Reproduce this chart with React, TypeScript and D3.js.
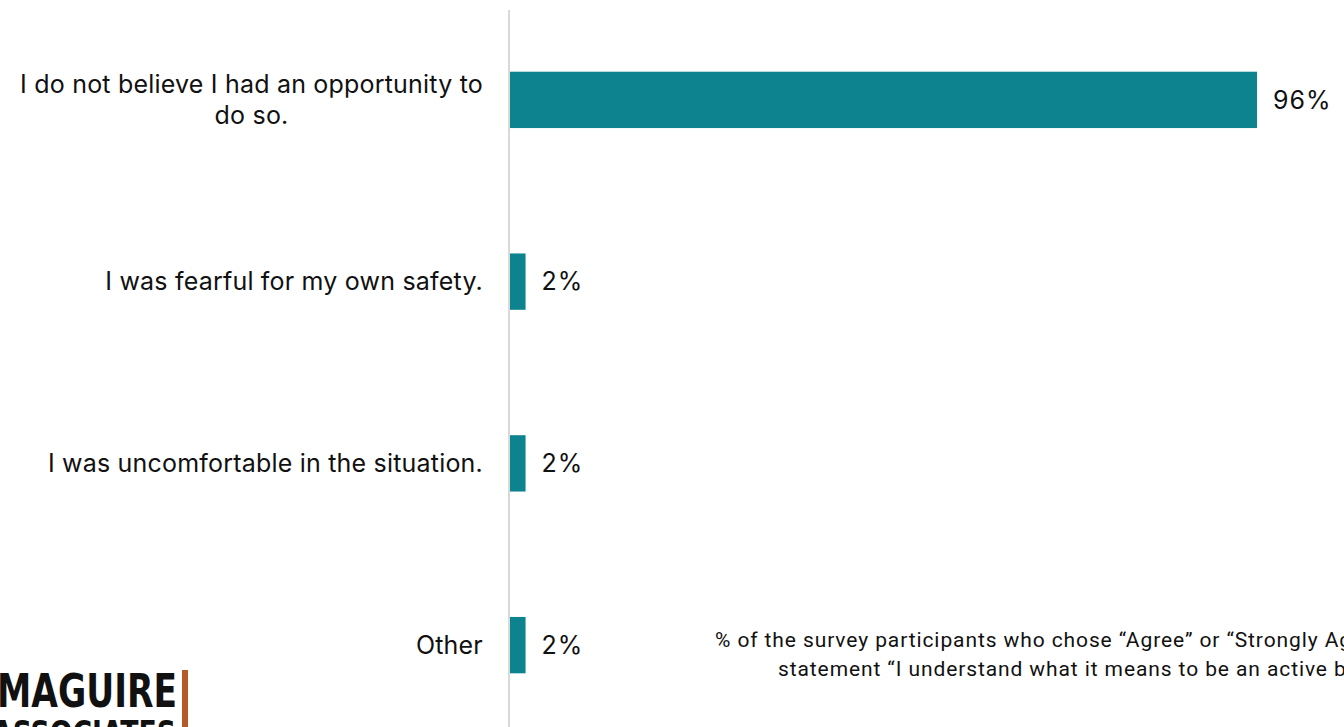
import React, { useEffect } from "react";
import * as d3 from "d3";

const categories: string[][] = [
  ["I do not believe I had an opportunity to", "do so."],
  ["I was fearful for my own safety."],
  ["I was uncomfortable in the situation."],
  ["Other"],
];
const values: number[] = [96, 2, 2, 2];
const noteLines: string[] = [
  "% of the survey participants who chose “Agree” or “Strongly Agree” with the",
  "statement “I understand what it means to be an active bystander.”",
];

const W = 1344;
const H = 727;

export default function App() {
  useEffect(() => {
    document.body.style.margin = "0";
    document.body.style.overflow = "hidden";
  }, []);

  const x = d3.scaleLinear().domain([0, 96]).range([510, 1257]);
  const y = d3
    .scaleBand<number>()
    .domain(d3.range(categories.length))
    .range([9, 736])
    .paddingInner(0.69)
    .paddingOuter(0.345);

  const labelFont = "Inter, 'Liberation Sans', Arial, sans-serif";
  const logoFont = "'DejaVu Sans Condensed', 'Liberation Sans Narrow', Arial, sans-serif";

  return (
    <svg width={W} height={H} style={{ display: "block" }}>
      <rect width={W} height={H} fill="#ffffff" />
      <line x1={509} x2={509} y1={10} y2={H} stroke="#d9d9d9" strokeWidth={2} />
      {values.map((v, i) => {
        const by = y(i)!;
        const bh = y.bandwidth();
        const cy = by + bh / 2;
        const lines = categories[i];
        return (
          <g key={i}>
            <rect x={x(0)} y={by} width={x(v) - x(0)} height={bh} fill="#0e8390" />
            <text
              x={x(v) + 16}
              y={cy}
              dy="0.35em"
              fontSize={25}
              style={{ letterSpacing: "1px" }}
              fontFamily={labelFont}
              fill="#111"
            >
              {v}%
            </text>
            <text
              x={483}
              y={cy - ((lines.length - 1) / 2) * 31}
              dy="0.35em"
              textAnchor="end"
              fontSize={25}
              style={{ letterSpacing: "0.2px" }}
              fontFamily={labelFont}
              fill="#111"
            >
              {lines[0]}
            </text>
            {lines.length > 1 && (
              <text
                x={483}
                y={cy + 15.5}
                dy="0.35em"
                textAnchor="middle"
                fontSize={25}
                style={{ letterSpacing: "0.2px" }}
                fontFamily={labelFont}
                fill="#111"
                ref={(el) => {
                  if (el && el.previousSibling) {
                    const prev = el.previousSibling as SVGTextElement;
                    const w = prev.getComputedTextLength();
                    el.setAttribute("x", String(483 - w / 2));
                  }
                }}
              >
                {lines[1]}
              </text>
            )}
          </g>
        );
      })}
      {noteLines.map((ln, j) => (
        <text
          key={j}
          x={j === 0 ? 715 : 778}
          y={640 + j * 29}
          dy="0.35em"
          fontSize={21}
          style={{ letterSpacing: "0.9px" }}
          fontFamily="Roboto, sans-serif"
          fill="#111"
        >
          {ln}
        </text>
      ))}
      <g>
        <text
          x={-3}
          y={707}
          fontSize={47}
          fontWeight="bold"
          fontFamily={logoFont}
          textLength={180}
          lengthAdjust="spacingAndGlyphs"
          fill="#111"
        >
          MAGUIRE
        </text>
        <text
          x={-8}
          y={745}
          fontSize={34}
          fontWeight="bold"
          fontFamily={logoFont}
          textLength={184}
          lengthAdjust="spacingAndGlyphs"
          fill="#111"
        >
          ASSOCIATES
        </text>
        <rect x={182} y={670} width={6} height={57} fill="#b5592a" />
      </g>
    </svg>
  );
}
